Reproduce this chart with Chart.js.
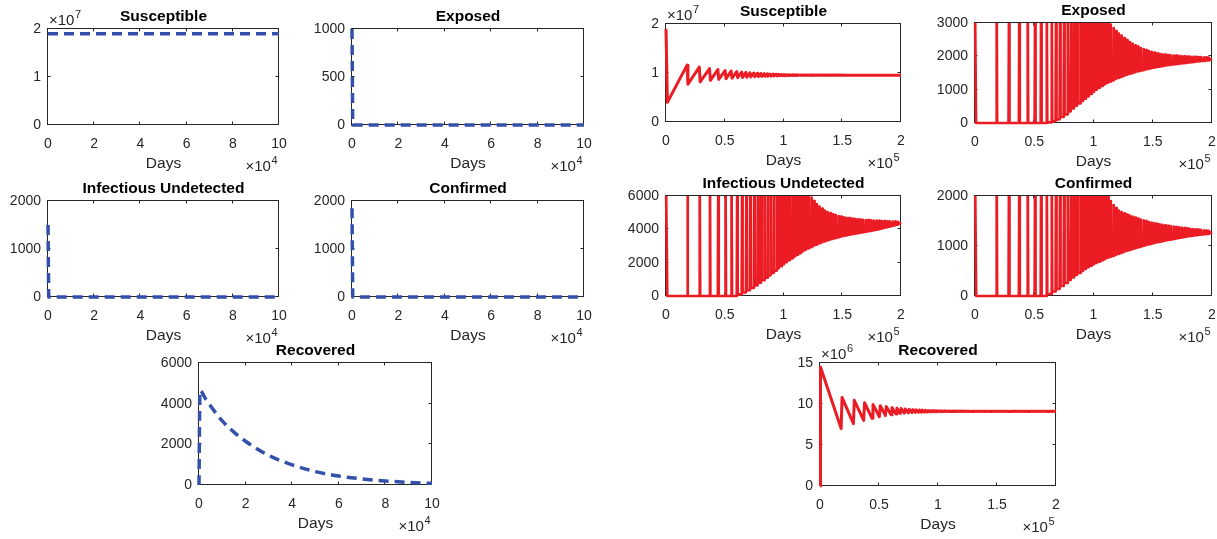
<!DOCTYPE html>
<html>
<head>
<meta charset="utf-8">
<title>Compartment model runs</title>
<script src="https://cdn.jsdelivr.net/npm/chart.js@4.4.0/dist/chart.umd.min.js"></script>
<style>
  body { margin: 0; background: #fff; }
  #wrap { position: relative; width: 1217px; height: 539px; overflow: hidden; }
  #wrap canvas { position: absolute; }
</style>
</head>
<body>
<div id="wrap"></div>
<script>
// ---- left run (dashed blue), days 0..1e5 ----
const leftSusceptibleDays = [0, 100000];
const leftSusceptible = [19000000, 19000000];
const leftExposedDays = [0, 300, 100000];
const leftExposed = [1000, 0, 0];
const leftInfectedDays = [0, 300, 100000];
const leftInfected = [1500, 0, 0];
const leftConfirmedDays = [0, 300, 100000];
const leftConfirmed = [1850, 0, 0];
const leftRecoveredDays = [0, 400, 3000, 10000, 15000, 20000, 25000, 30000, 35000, 40000, 50000, 60000, 70000, 80000, 90000, 100000];
const leftRecovered = [0, 4650, 4200, 3150, 2600, 2150, 1770, 1450, 1200, 990, 660, 440, 300, 200, 130, 80];

// ---- right run (solid red), days 0..2e5 ----
// days of each outbreak burst
const burstDays = [18300, 28700, 37400, 44500, 50700, 55800, 60600, 64800, 68400, 71800,
  75200, 78300, 81100, 83900, 86400, 89000, 91500, 94000, 96300, 98600,
  100800, 103100, 105400, 107700, 110000, 112300, 114600, 116900, 119200, 121500,
  123800, 126100, 128400, 130700, 133000, 135300, 137600, 139900, 142200, 144500,
  146800, 149100, 151400, 153700, 156000, 158300, 160600, 162900, 165200, 167500,
  169800, 172100, 174400, 176700, 179000, 181300, 183600, 185900, 188200, 190500,
  192800, 195100, 197400];
const burstHalf = 380;
const endDay = 200000;

// Exposed: peak at each burst, level after it
const exposedStartDays = [0, 900];
const exposedStart = [3600, 0];
const exposedHigh = [3600, 3600, 3600, 3600, 3600, 3600, 3600, 3600, 3600, 3600,
  3600, 3600, 3600, 3600, 3600, 3600, 3600, 3600, 3600, 3600,
  3600, 3600, 3600, 3600, 3600, 3250, 2950, 2850, 2760, 2680,
  2620, 2550, 2490, 2430, 2380, 2330, 2290, 2250, 2220, 2190,
  2160, 2135, 2110, 2090, 2075, 2060, 2050, 2040, 2030, 2025,
  2020, 2012, 2005, 2000, 1995, 1990, 1986, 1982, 1978, 1974,
  1970, 1966, 1962];
const exposedLow = [0, 0, 0, 0, 0, 0, 20, 60, 110, 180,
  260, 350, 440, 520, 590, 660, 730, 800, 870, 940,
  1000, 1060, 1110, 1160, 1200, 1240, 1280, 1320, 1350, 1385,
  1415, 1445, 1470, 1495, 1520, 1545, 1565, 1585, 1605, 1625,
  1645, 1660, 1675, 1690, 1705, 1720, 1735, 1745, 1755, 1765,
  1775, 1785, 1795, 1805, 1815, 1825, 1835, 1845, 1855, 1862,
  1870, 1876, 1882];
const exposedEnd = 1925;

// Infectious undetected
const infectedStartDays = [0, 1100];
const infectedStart = [7000, 0];
const infectedHigh = [7000, 7000, 7000, 7000, 7000, 7000, 7000, 7000, 7000, 7000,
  7000, 7000, 7000, 7000, 7000, 7000, 7000, 7000, 7000, 7000,
  7000, 7000, 7000, 7000, 7000, 7000, 7000, 7000, 7000, 6300,
  5900, 5700, 5520, 5370, 5240, 5130, 5040, 4970, 4900, 4850,
  4800, 4760, 4725, 4695, 4670, 4645, 4625, 4605, 4590, 4575,
  4560, 4548, 4536, 4525, 4515, 4505, 4496, 4488, 4480, 4472,
  4465, 4458, 4452];
const infectedLow = [0, 0, 0, 0, 0, 0, 100, 220, 350, 490,
  640, 800, 950, 1100, 1240, 1380, 1520, 1660, 1790, 1910,
  2030, 2150, 2260, 2370, 2470, 2570, 2670, 2760, 2850, 2930,
  3010, 3080, 3150, 3210, 3270, 3330, 3380, 3430, 3475, 3520,
  3560, 3600, 3635, 3670, 3700, 3730, 3760, 3790, 3820, 3850,
  3880, 3910, 3940, 3970, 4000, 4040, 4080, 4120, 4160, 4200,
  4240, 4280, 4320];
const infectedEnd = 4420;

// Confirmed
const confirmedStartDays = [0, 1000];
const confirmedStart = [2500, 0];
const confirmedHigh = [2500, 2500, 2500, 2500, 2500, 2500, 2500, 2500, 2500, 2500,
  2500, 2500, 2500, 2500, 2500, 2500, 2500, 2500, 2500, 2500,
  2500, 2500, 2500, 2500, 2500, 2150, 1900, 1820, 1760, 1710,
  1680, 1655, 1630, 1610, 1590, 1570, 1550, 1530, 1515, 1500,
  1478, 1466, 1455, 1445, 1435, 1425, 1415, 1405, 1396, 1388,
  1380, 1373, 1366, 1359, 1352, 1345, 1339, 1333, 1327, 1321,
  1315, 1310, 1305];
const confirmedLow = [0, 0, 0, 0, 0, 0, 40, 90, 140, 200,
  260, 320, 370, 420, 460, 500, 540, 575, 605, 635,
  660, 685, 710, 735, 760, 780, 800, 820, 840, 860,
  880, 900, 918, 935, 952, 968, 984, 1000, 1015, 1030,
  1044, 1057, 1070, 1082, 1094, 1105, 1116, 1127, 1138, 1148,
  1158, 1168, 1177, 1186, 1195, 1203, 1211, 1218, 1225, 1232,
  1238, 1244, 1250];
const confirmedEnd = 1280;

// Susceptible, millions: just before / just after each burst
const susceptibleStartDays = [0, 1200];
const susceptibleStart = [19.0, 4.0];
const susceptibleBefore = [11.6, 11.2, 10.9, 10.7, 10.5, 10.4, 10.3, 10.2, 10.12, 10.05,
  10.0, 9.95, 9.9, 9.86, 9.82, 9.79, 9.76, 9.73, 9.71, 9.69,
  9.67, 9.66, 9.65, 9.64, 9.63, 9.62, 9.615, 9.61, 9.605, 9.6,
  9.597, 9.594, 9.591, 9.588, 9.585, 9.582, 9.58, 9.578, 9.576, 9.574,
  9.572, 9.57, 9.568, 9.566, 9.564, 9.562, 9.56, 9.56, 9.56, 9.56,
  9.56, 9.56, 9.56, 9.56, 9.56, 9.56, 9.56, 9.56, 9.56, 9.56,
  9.56, 9.56, 9.56];
const susceptibleAfter = [7.7, 8.2, 8.5, 8.7, 8.85, 8.95, 9.05, 9.1, 9.15, 9.2,
  9.25, 9.28, 9.31, 9.34, 9.36, 9.38, 9.4, 9.42, 9.44, 9.45,
  9.46, 9.47, 9.48, 9.49, 9.5, 9.505, 9.51, 9.515, 9.52, 9.52,
  9.525, 9.525, 9.53, 9.53, 9.535, 9.535, 9.54, 9.54, 9.54, 9.545,
  9.545, 9.545, 9.55, 9.55, 9.55, 9.55, 9.55, 9.55, 9.55, 9.55,
  9.55, 9.55, 9.55, 9.55, 9.55, 9.55, 9.55, 9.55, 9.55, 9.55,
  9.55, 9.55, 9.55];
const susceptibleEnd = 9.55;

// Recovered, millions: just before / just after each burst
const recoveredStartDays = [0, 400];
const recoveredStart = [0, 14.5];
const recoveredBefore = [7.0, 7.6, 8.0, 8.25, 8.45, 8.6, 8.7, 8.78, 8.84, 8.89,
  8.93, 8.96, 8.98, 9.0, 9.01, 9.02, 9.03, 9.04, 9.05, 9.055,
  9.06, 9.065, 9.07, 9.07, 9.075, 9.075, 9.08, 9.08, 9.08, 9.08,
  9.085, 9.085, 9.085, 9.09, 9.09, 9.09, 9.09, 9.09, 9.09, 9.09,
  9.09, 9.09, 9.09, 9.09, 9.09, 9.09, 9.09, 9.09, 9.09, 9.09,
  9.09, 9.09, 9.09, 9.09, 9.09, 9.09, 9.09, 9.09, 9.09, 9.09,
  9.09, 9.09, 9.09];
const recoveredAfter = [10.8, 10.45, 10.15, 9.95, 9.8, 9.68, 9.58, 9.5, 9.44, 9.39,
  9.35, 9.32, 9.29, 9.27, 9.25, 9.23, 9.21, 9.2, 9.19, 9.18,
  9.17, 9.165, 9.16, 9.155, 9.15, 9.145, 9.14, 9.14, 9.14, 9.135,
  9.135, 9.13, 9.13, 9.13, 9.13, 9.13, 9.13, 9.13, 9.13, 9.13,
  9.13, 9.13, 9.13, 9.13, 9.13, 9.13, 9.13, 9.13, 9.13, 9.13,
  9.13, 9.13, 9.13, 9.13, 9.13, 9.13, 9.13, 9.13, 9.13, 9.13,
  9.13, 9.13, 9.13];
const recoveredEnd = 9.11;

const BLUE = "#3350aa";
const RED = "#ec1c24";
const INK = "#262626";
const FONT = "'Liberation Sans', Arial, Helvetica, sans-serif";
const PAD = { l: 46, t: 30, r: 34, b: 56 };

function zip(xs, ys, k) {
  k = k || 1;
  return xs.map((x, i) => ({ x: x, y: ys[i] * k }));
}

// spike-shaped run: rises to the peak at each burst and falls to the level after it
function spikeSeries(startDays, start, highs, lows, end) {
  const pts = zip(startDays, start);
  let prev = start[start.length - 1];
  burstDays.forEach((t, i) => {
    pts.push({ x: t - burstHalf, y: prev });
    pts.push({ x: t, y: highs[i] });
    pts.push({ x: t + burstHalf, y: lows[i] });
    prev = lows[i];
  });
  pts.push({ x: endDay, y: end });
  return pts;
}

// saw-tooth run (values in millions): jumps at each burst
function sawSeries(startDays, start, before, after, end) {
  const pts = zip(startDays, start, 1e6);
  burstDays.forEach((t, i) => {
    pts.push({ x: t - burstHalf, y: before[i] * 1e6 });
    pts.push({ x: t + burstHalf, y: after[i] * 1e6 });
  });
  pts.push({ x: endDay, y: end * 1e6 });
  return pts;
}

const leftX = { max: 100000, step: 20000, exp: 4 };
const rightX = { max: 200000, step: 50000, exp: 5 };

const panels = [
  { box: [48, 29, 279, 125], title: "Susceptible", x: leftX, yMax: 2e7, yStep: 1e7, yExp: 7, dashed: true,
    data: zip(leftSusceptibleDays, leftSusceptible) },
  { box: [352, 29, 584, 125], title: "Exposed", x: leftX, yMax: 1000, yStep: 500, yExp: 0, dashed: true,
    data: zip(leftExposedDays, leftExposed) },
  { box: [48, 201, 279, 297], title: "Infectious Undetected", x: leftX, yMax: 2000, yStep: 1000, yExp: 0, dashed: true,
    data: zip(leftInfectedDays, leftInfected) },
  { box: [352, 201, 584, 297], title: "Confirmed", x: leftX, yMax: 2000, yStep: 1000, yExp: 0, dashed: true,
    data: zip(leftConfirmedDays, leftConfirmed) },
  { box: [199, 363, 432, 485], title: "Recovered", x: leftX, yMax: 6000, yStep: 2000, yExp: 0, dashed: true, smooth: true,
    data: zip(leftRecoveredDays, leftRecovered) },

  { box: [666, 24, 901, 122], title: "Susceptible", x: rightX, yMax: 2e7, yStep: 1e7, yExp: 7,
    data: sawSeries(susceptibleStartDays, susceptibleStart, susceptibleBefore, susceptibleAfter, susceptibleEnd) },
  { box: [975, 23, 1212, 123], title: "Exposed", x: rightX, yMax: 3000, yStep: 1000, yExp: 0, spiky: true,
    data: spikeSeries(exposedStartDays, exposedStart, exposedHigh, exposedLow, exposedEnd) },
  { box: [666, 196, 901, 296], title: "Infectious Undetected", x: rightX, yMax: 6000, yStep: 2000, yExp: 0, spiky: true,
    data: spikeSeries(infectedStartDays, infectedStart, infectedHigh, infectedLow, infectedEnd) },
  { box: [975, 196, 1212, 296], title: "Confirmed", x: rightX, yMax: 2000, yStep: 1000, yExp: 0, spiky: true,
    data: spikeSeries(confirmedStartDays, confirmedStart, confirmedHigh, confirmedLow, confirmedEnd) },
  { box: [820, 363, 1056, 486], title: "Recovered", x: rightX, yMax: 1.5e7, yStep: 5e6, yExp: 6,
    data: sawSeries(recoveredStartDays, recoveredStart, recoveredBefore, recoveredAfter, recoveredEnd) }
];

function fmt(v, e) {
  return String(Math.round(v / Math.pow(10, e) * 100) / 100);
}

function drawPower(ctx, x, y, exp, alignRight) {
  ctx.font = "15px " + FONT;
  const w1 = ctx.measureText("\u00d710").width;
  ctx.font = "11px " + FONT;
  const w2 = ctx.measureText(String(exp)).width;
  const x0 = alignRight ? x - w1 - w2 : x;
  ctx.textAlign = "left";
  ctx.textBaseline = "alphabetic";
  ctx.font = "15px " + FONT;
  ctx.fillText("\u00d710", x0, y);
  ctx.font = "11px " + FONT;
  ctx.fillText(String(exp), x0 + w1 + 0.5, y - 7);
}

function framePlugin(p) {
  return {
    id: "frame",
    beforeDatasetsDraw(chart) {
      const { ctx, chartArea: a, scales } = chart;
      const L = Math.round(a.left) - 0.5, R = Math.round(a.right) - 0.5;
      const T = Math.round(a.top) - 0.5, B = Math.round(a.bottom) - 0.5;
      ctx.save();
      ctx.strokeStyle = INK;
      ctx.lineWidth = 1;
      ctx.beginPath();
      scales.x.ticks.forEach(t => {
        const px = Math.round(scales.x.getPixelForValue(t.value)) - 0.5;
        ctx.moveTo(px, B); ctx.lineTo(px, B - 3);
        ctx.moveTo(px, T); ctx.lineTo(px, T + 3);
      });
      scales.y.ticks.forEach(t => {
        const py = Math.round(scales.y.getPixelForValue(t.value)) - 0.5;
        ctx.moveTo(L, py); ctx.lineTo(L + 3, py);
        ctx.moveTo(R, py); ctx.lineTo(R - 3, py);
      });
      ctx.stroke();
      ctx.strokeRect(L, T, R - L, B - T);
      ctx.restore();
    },
    afterDraw(chart) {
      const { ctx, chartArea: a } = chart;
      const mid = (a.left + a.right) / 2;
      ctx.save();
      ctx.fillStyle = "#000";
      ctx.textAlign = "center";
      ctx.textBaseline = "alphabetic";
      ctx.font = "bold 15.5px " + FONT;
      ctx.fillText(p.title, mid, a.top - 8);
      ctx.fillStyle = INK;
      ctx.font = "15.5px " + FONT;
      ctx.fillText("Days", mid, a.bottom + 43);
      drawPower(ctx, a.right - 2, a.bottom + 46, p.x.exp, true);
      if (p.yExp) drawPower(ctx, a.left + 1, a.top - 4, p.yExp, false);
      ctx.restore();
    }
  };
}

const wrap = document.getElementById("wrap");

panels.forEach(p => {
  const [l, t, r, b] = p.box;
  const w = r - l + PAD.l + PAD.r;
  const h = b - t + PAD.t + PAD.b;
  const c = document.createElement("canvas");
  c.width = w;
  c.height = h;
  c.style.left = (l - PAD.l) + "px";
  c.style.top = (t - PAD.t) + "px";
  c.style.width = w + "px";
  c.style.height = h + "px";
  wrap.appendChild(c);

  new Chart(c, {
    type: "line",
    data: {
      datasets: [{
        data: p.data,
        borderColor: p.dashed ? BLUE : RED,
        borderWidth: p.dashed ? 3.5 : (p.spiky ? 2.7 : 3),
        borderDash: p.dashed ? [10, 6] : [],
        borderJoinStyle: "round",
        cubicInterpolationMode: p.smooth ? "monotone" : "default",
        clip: p.dashed ? 3 : { left: 2, top: 0, right: 2, bottom: 2 },
        pointRadius: 0,
        fill: false
      }]
    },
    options: {
      responsive: false,
      animation: false,
      events: [],
      parsing: false,
      layout: { padding: { left: 0, top: PAD.t, right: PAD.r, bottom: 0 } },
      plugins: { legend: { display: false }, tooltip: { enabled: false } },
      scales: {
        x: {
          type: "linear", min: 0, max: p.x.max,
          afterFit: s => { s.height = PAD.b; },
          grid: { display: false, drawTicks: false },
          border: { display: false },
          ticks: {
            stepSize: p.x.step, autoSkip: false, maxRotation: 0, padding: 11,
            color: INK, font: { family: FONT, size: 14 },
            callback: v => fmt(v, p.x.exp)
          }
        },
        y: {
          type: "linear", min: 0, max: p.yMax,
          afterFit: s => { s.width = PAD.l; },
          grid: { display: false, drawTicks: false },
          border: { display: false },
          ticks: {
            stepSize: p.yStep, autoSkip: false, padding: 7,
            color: INK, font: { family: FONT, size: 14 },
            callback: v => fmt(v, p.yExp)
          }
        }
      }
    },
    plugins: [framePlugin(p)]
  });
});
</script>
</body>
</html>
